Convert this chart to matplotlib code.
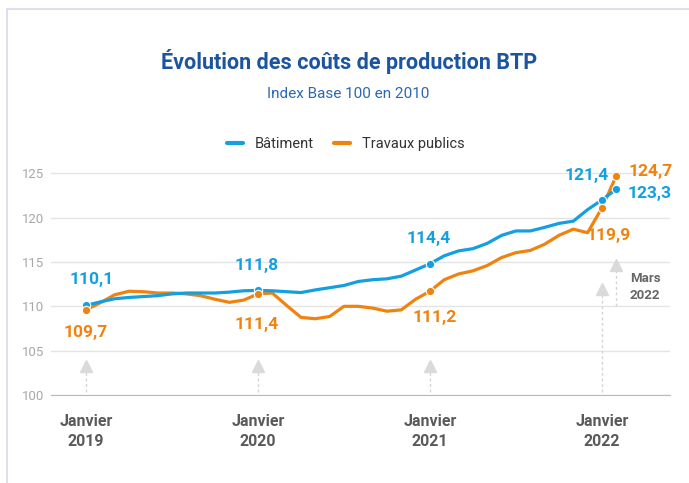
import matplotlib.pyplot as plt
from matplotlib.patches import Rectangle

# monthly index, 0 = janvier 2019 ; last point = mars 2022
months = list(range(38))

batiment = [110.1, 110.5, 110.85, 111.0, 111.1, 111.2, 111.4, 111.5, 111.5, 111.5, 111.6, 111.75,
            111.8, 111.75, 111.65, 111.55, 111.85, 112.1, 112.35, 112.8, 113.0, 113.1, 113.4, 114.1,
            114.8, 115.7, 116.25, 116.5, 117.1, 118.0, 118.5, 118.5, 118.9, 119.35, 119.6, 120.9,
            122.0, 123.2]
travaux = [109.6, 110.4, 111.3, 111.7, 111.65, 111.5, 111.5, 111.4, 111.2, 110.8, 110.45, 110.7,
           111.4, 111.5, 110.1, 108.75, 108.6, 108.85, 110.0, 110.0, 109.8, 109.45, 109.6, 110.8,
           111.7, 113.0, 113.65, 114.0, 114.6, 115.5, 116.05, 116.3, 117.0, 118.0, 118.7, 118.3,
           121.1, 124.7]

tick_months = [0, 12, 24, 36]
tick_labels = ['Janvier\n2019', 'Janvier\n2020', 'Janvier\n2021', 'Janvier\n2022']
dot_months = [0, 12, 24, 36, 37]

bat_labels = ['110,1', '111,8', '114,4', '121,4', '123,3']
tp_labels = ['109,7', '111,4', '111,2', '119,9', '124,7']

BLUE = '#14a0e0'
ORANGE = '#f0830f'
GRAY = '#5a5a5a'

plt.rcParams['font.family'] = ['Roboto', 'DejaVu Sans']

W, H = 689, 483
fig = plt.figure(figsize=(W / 100, H / 100), dpi=100)

# light frame around the card
fig.patches.append(Rectangle((6.5 / W, -0.1), 2, 1 - 9 / H + 0.1, transform=fig.transFigure,
                             fill=False, edgecolor='#d8daf0', linewidth=1.2))

# axes placed in pixel coordinates
left, right, bottom, top = 51, 670, 395, 160
ax = fig.add_axes([left / W, 1 - bottom / H, (right - left) / W, (bottom - top) / H])
ax.set_xlim(-2.44, 40.75)
ax.set_ylim(100, 126.5)

ax.set_yticks([100, 105, 110, 115, 120, 125])
ax.grid(axis='y', color='#e4e4e4', linewidth=1)
ax.set_axisbelow(True)
for s in ['top', 'right', 'left']:
    ax.spines[s].set_visible(False)
ax.spines['bottom'].set_color('#b8b8b8')
ax.tick_params(axis='y', length=0, labelsize=9.5, labelcolor='#a8a8a8', pad=5)
ax.set_xticks(tick_months)
ax.set_xticklabels(tick_labels, fontsize=11.5, fontweight='bold', color=GRAY, linespacing=1.35)
ax.tick_params(axis='x', length=0, pad=14)

# arrows pointing at the highlighted months
def arrow(xm, y0, y1):
    ax.plot([xm, xm], [y0, y1], color='#d4d4d4', linestyle=(0, (2, 2)), linewidth=1, zorder=1)
    ax.plot([xm], [y1], marker='^', markersize=8, color='#dadada', zorder=1)

arrow(0, 100.3, 103.3)
arrow(12, 100.3, 103.3)
arrow(24, 100.3, 103.3)
arrow(36, 100.3, 112.0)
arrow(37, 110.0, 114.7)
ax.text(37.95, 112.2, 'Mars\n2022', fontsize=9.5, fontweight='bold', color='#666666',
        ha='left', va='center', linespacing=1.35)

ax.plot(months, batiment, color=BLUE, linewidth=2.3, label='Bâtiment', zorder=3,
        solid_capstyle='round')
ax.plot(months, travaux, color=ORANGE, linewidth=2.3, label='Travaux publics', zorder=2,
        solid_capstyle='round')
ax.plot(dot_months, [batiment[m] for m in dot_months], 'o', color=BLUE, markersize=6,
        mec='white', mew=0.8, zorder=4)
ax.plot(dot_months, [travaux[m] for m in dot_months], 'o', color=ORANGE, markersize=6,
        mec='white', mew=0.8, zorder=4)

bat_pos = [(0.4, 113.0), (11.9, 114.56), (23.9, 117.7), (34.96, 124.8), (39.3, 122.7)]
tp_pos = [(0.0, 107.0), (11.9, 107.9), (24.35, 108.7), (36.5, 118.0), (39.4, 125.25)]
for txt, (xp, yp) in zip(bat_labels, bat_pos):
    ax.text(xp, yp, txt, color=BLUE, fontsize=12.5, fontweight='bold', ha='center', va='center',
            zorder=5, clip_on=False)
for txt, (xp, yp) in zip(tp_labels, tp_pos):
    ax.text(xp, yp, txt, color=ORANGE, fontsize=12.5, fontweight='bold', ha='center', va='center',
            zorder=5, clip_on=False)

fig.text(0.506, 1 - 62 / H, 'Évolution des coûts de production BTP', ha='center', va='center',
         fontsize=15.5, fontweight='bold', color='#1b55a0')
fig.text(0.506, 1 - 94 / H, 'Index Base 100 en 2010', ha='center', va='center',
         fontsize=11, color='#2a68b2')

leg = fig.legend(loc='center', bbox_to_anchor=(0.502, 1 - 144 / H), ncol=2, frameon=False,
                 handlelength=1.1, handletextpad=0.8, columnspacing=1.4, fontsize=10.5)
for t in leg.get_texts():
    t.set_color('#333333')
for h in leg.get_lines():
    h.set_linewidth(3)

fig.savefig('out.png', dpi=100, facecolor='white')
